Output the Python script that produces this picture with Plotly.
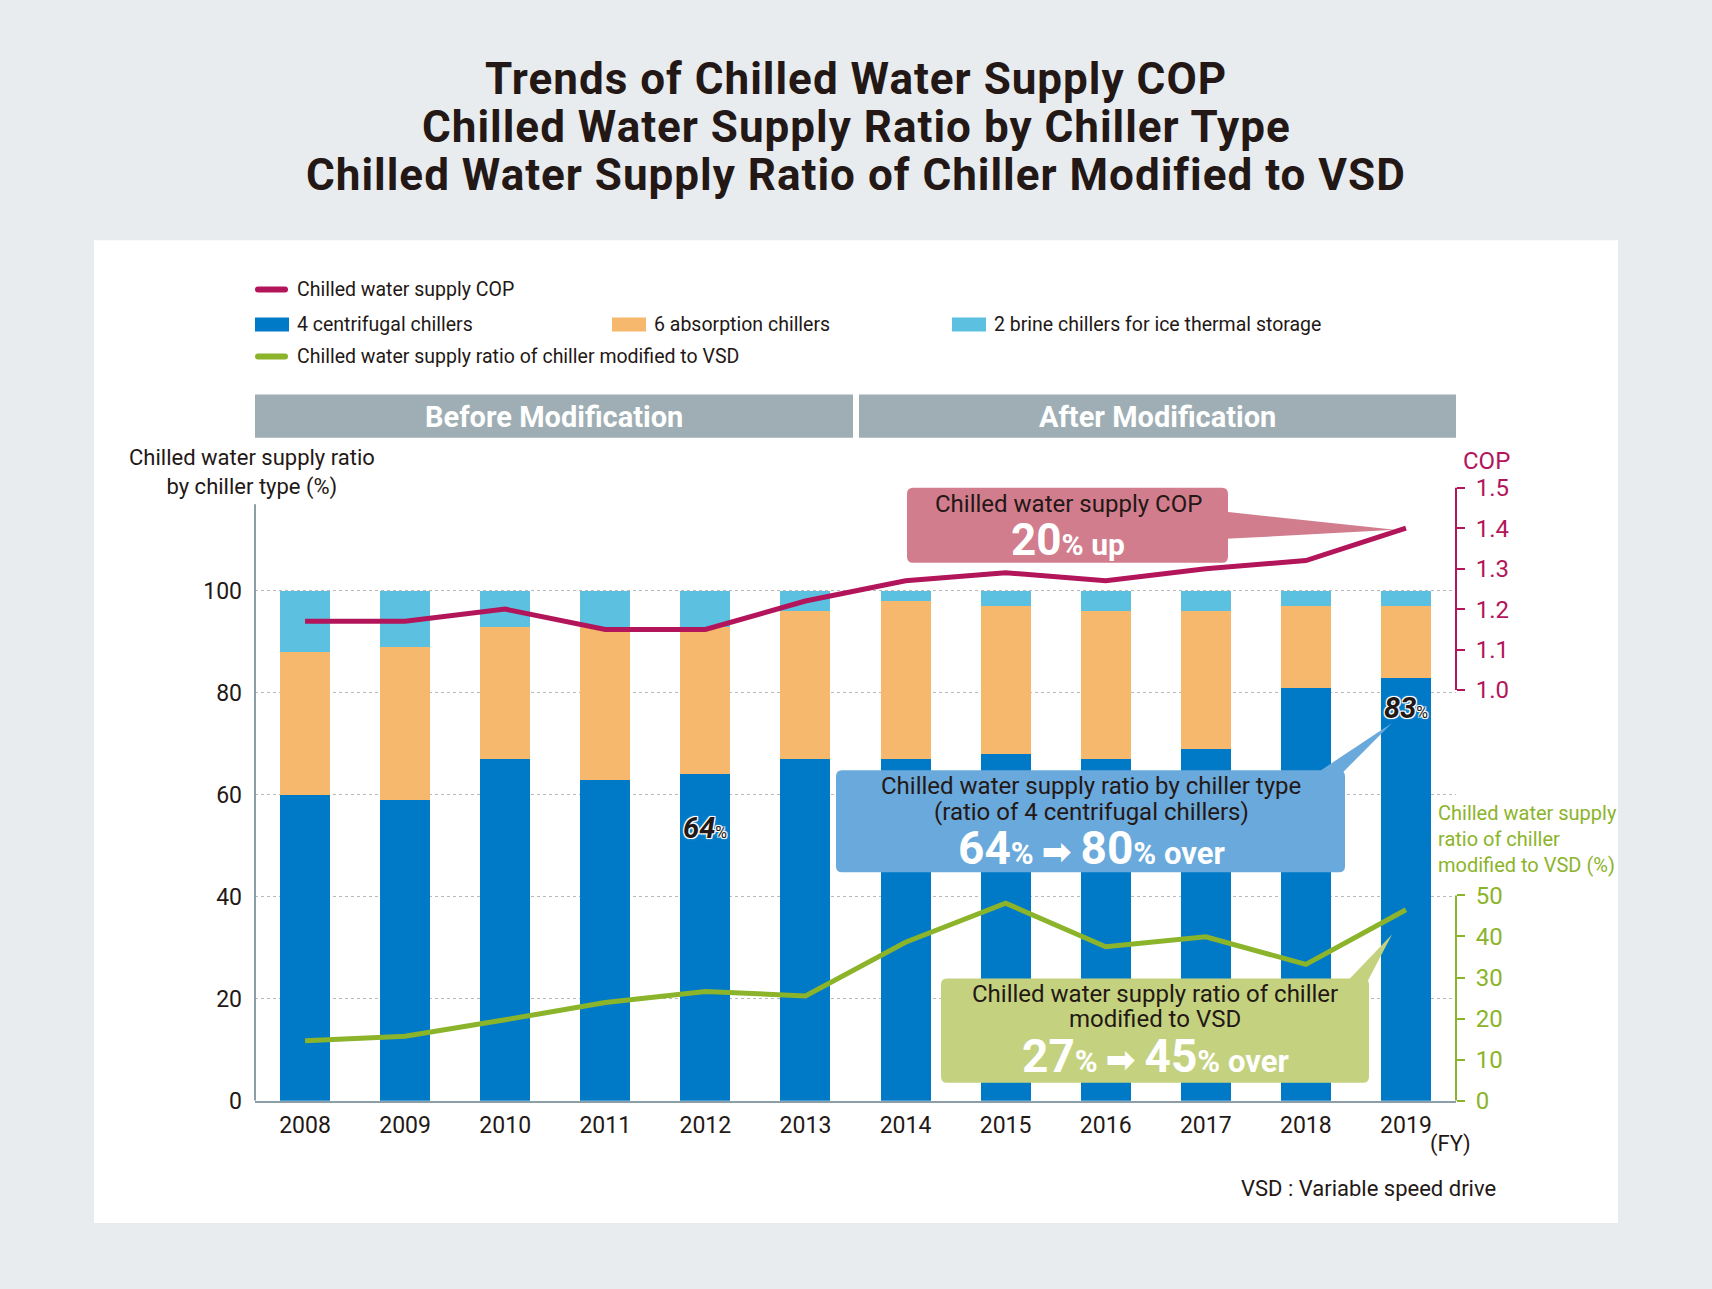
import plotly.graph_objects as go

W, H = 1712, 1289
# the page is photographed 16px taller than asked and squeezed back to H,
# so the figure fills that taller view and layout positions stay in H units
FIG_H = H + 16

years = ["2008", "2009", "2010", "2011", "2012", "2013",
         "2014", "2015", "2016", "2017", "2018", "2019"]
centrifugal = [60, 59, 67, 63, 64, 67, 67, 68, 67, 69, 81, 83]
absorption = [28, 30, 26, 30, 29, 29, 31, 29, 29, 27, 16, 14]
brine = [12, 11, 7, 7, 7, 4, 2, 3, 4, 4, 3, 3]
cop = [1.17, 1.17, 1.20, 1.15, 1.15, 1.22, 1.27, 1.29, 1.27, 1.30, 1.32, 1.40]
vsd_ratio = [14.6, 15.7, 19.7, 23.9, 26.6, 25.5, 38.6, 48.1, 37.5, 39.9, 33.2, 46.5]

left_ticks = [0, 20, 40, 60, 80, 100]
cop_ticks = [1.0, 1.1, 1.2, 1.3, 1.4, 1.5]
vsd_ticks = [0, 10, 20, 30, 40, 50]

FONT = "Roboto, 'DejaVu Sans', sans-serif"
DARK = "#231815"
BLUE = "#0079c7"
ORANGE = "#f6b86d"
CYAN = "#5cc1e1"
CRIMSON = "#b3155b"
GREEN = "#8cb42a"
AXIS = "#8c9ea8"
BANNER = "#9eaeb4"
PAGE = "#e8ecef"


def px(x):
    return x / W


def py(y):
    return 1 - y / H


# plot area in pixels
x_left, x_right = 255, 1456
y_bottom, y_top = 1099, 470

# axis scales (pixel anchors of the reference)
left_unit = (y_bottom - 590) / 100
left_range = [0, (y_bottom - y_top) / left_unit]
cop_unit = (689 - 487) / 0.5
cop_range = [1.0 - (y_bottom - 689) / cop_unit, 1.0 + (689 - y_top) / cop_unit]
vsd_unit = (y_bottom - 894) / 50
vsd_range = [0, (y_bottom - y_top) / vsd_unit]


def rbox(x0, y0, x1, y1, r=6):
    pts = [("M", x0 + r, y0), ("L", x1 - r, y0), ("Q", x1, y0, x1, y0 + r),
           ("L", x1, y1 - r), ("Q", x1, y1, x1 - r, y1), ("L", x0 + r, y1),
           ("Q", x0, y1, x0, y1 - r), ("L", x0, y0 + r), ("Q", x0, y0, x0 + r, y0)]
    out = ""
    for p in pts:
        if p[0] == "Q":
            out += f"Q{px(p[1])},{py(p[2])} {px(p[3])},{py(p[4])} "
        else:
            out += f"{p[0]}{px(p[1])},{py(p[2])} "
    return out + "Z"


def tri(a, b, c):
    return (f"M{px(a[0])},{py(a[1])} L{px(b[0])},{py(b[1])} "
            f"L{px(c[0])},{py(c[1])} Z")


def big(a, b, tail):
    # "a% -> b% tail" with large digits and small units
    sm = "font-size:31px"
    return (f"<b>{a}</b><span style='{sm}'><b>% </b></span>"
            f"<span style='font-size:36px'><b>➡ </b></span>"
            f"<b>{b}</b><span style='{sm}'><b>% {tail}</b></span>")


fig = go.Figure()
fig.add_trace(go.Bar(x=years, y=centrifugal, marker_color=BLUE, width=0.5,
                     marker_line_width=0, name="4 centrifugal chillers"))
fig.add_trace(go.Bar(x=years, y=absorption, marker_color=ORANGE, width=0.5,
                     marker_line_width=0, name="6 absorption chillers"))
fig.add_trace(go.Bar(x=years, y=brine, marker_color=CYAN, width=0.5,
                     marker_line_width=0, name="2 brine chillers for ice thermal storage"))
fig.add_trace(go.Scatter(x=years, y=cop, yaxis="y2", mode="lines",
                         line=dict(color=CRIMSON, width=5), name="Chilled water supply COP"))
fig.add_trace(go.Scatter(x=years, y=vsd_ratio, yaxis="y3", mode="lines",
                         line=dict(color=GREEN, width=5),
                         name="Chilled water supply ratio of chiller modified to VSD"))

shapes = []
annots = []

# white panel
shapes.append(dict(type="rect", xref="paper", yref="paper", x0=px(94), x1=px(1618),
                   y0=py(1221), y1=py(240), fillcolor="white", line_width=0, layer="below"))

# titles
for i, t in enumerate(["Trends of Chilled Water Supply COP",
                       "Chilled Water Supply Ratio by Chiller Type",
                       "Chilled Water Supply Ratio of Chiller Modified to VSD"]):
    annots.append(dict(text=f"<span style='letter-spacing:1px'><b>{t}</b></span>",
                       x=px(856), y=py(79 + 48 * i), font=dict(size=44, color=DARK)))

# legend
leg = [
    ("line", CRIMSON, 255, 289, "Chilled water supply COP"),
    ("box", BLUE, 255, 324, "4 centrifugal chillers"),
    ("box", ORANGE, 612, 324, "6 absorption chillers"),
    ("box", CYAN, 952, 324, "2 brine chillers for ice thermal storage"),
    ("line", GREEN, 255, 356, "Chilled water supply ratio of chiller modified to VSD"),
]
for kind, col, lx, ly, label in leg:
    if kind == "line":
        shapes.append(dict(type="path", xref="paper", yref="paper",
                           path=rbox(lx, ly - 3, lx + 33, ly + 3, r=3),
                           fillcolor=col, line_width=0))
    else:
        shapes.append(dict(type="rect", xref="paper", yref="paper", x0=px(lx), x1=px(lx + 34),
                           y0=py(ly + 7), y1=py(ly - 7), fillcolor=col, line_width=0))
    annots.append(dict(text=label, x=px(lx + 40), y=py(ly), xanchor="left",
                       font=dict(size=19.5, color=DARK)))

# banners
for x0, x1, label in [(255, 853, "Before Modification"), (859, 1456, "After Modification")]:
    shapes.append(dict(type="rect", xref="paper", yref="paper", x0=px(x0), x1=px(x1),
                       y0=py(437), y1=py(394), fillcolor=BANNER, line_width=0))
    annots.append(dict(text=f"<b>{label}</b>", x=px((x0 + x1) / 2), y=py(416),
                       font=dict(size=29, color="white")))

# axis lines drawn only over the labelled spans
shapes.append(dict(type="line", xref="paper", yref="y", x0=px(x_left), x1=px(x_left),
                   y0=0, y1=117, line=dict(color=AXIS, width=2), layer="above"))
shapes.append(dict(type="line", xref="paper", yref="y2", x0=px(x_right), x1=px(x_right),
                   y0=1.0, y1=1.5, line=dict(color=CRIMSON, width=2)))
shapes.append(dict(type="line", xref="paper", yref="y3", x0=px(x_right), x1=px(x_right),
                   y0=0, y1=50, line=dict(color=GREEN, width=2)))

# axis titles
annots.append(dict(text="Chilled water supply ratio<br>by chiller type (%)",
                   x=px(252), y=py(472), font=dict(size=22, color=DARK)))
annots.append(dict(text="COP", x=px(1486), y=py(460), font=dict(size=24, color=CRIMSON)))
annots.append(dict(text="Chilled water supply<br>ratio of chiller<br>modified to VSD (%)",
                   x=px(1436), y=py(838), xanchor="left", align="left",
                   font=dict(size=20, color=GREEN)))
annots.append(dict(text="(FY)", x=px(1450), y=py(1142), font=dict(size=22, color=DARK)))
annots.append(dict(text="VSD : Variable speed drive", x=px(1368), y=py(1187),
                   font=dict(size=22, color=DARK)))

# value labels on bars
outline = "-1px -1px 0 #fff, 1px -1px 0 #fff, -1px 1px 0 #fff, 1px 1px 0 #fff, 0 0 3px #fff"
for idx, yl in [(4, 53.5), (11, 77)]:
    annots.append(dict(text=f"<b><i>{centrifugal[idx]}</i></b><span style='font-size:16px'>%</span>",
                       x=idx, y=yl, xref="x", yref="y",
                       font=dict(size=29, color=DARK, shadow=outline)))

# COP callout
shapes.append(dict(type="path", xref="paper", yref="paper",
                   path=tri((1226, 511), (1226, 538), (1395, 529)),
                   fillcolor="#d27d8e", line_width=0))
shapes.append(dict(type="path", xref="paper", yref="paper",
                   path=rbox(907, 487, 1228, 562), fillcolor="#d27d8e", line_width=0))
annots.append(dict(text="Chilled water supply COP", x=px(1068), y=py(503),
                   font=dict(size=24, color=DARK)))
annots.append(dict(text="<b>20</b><span style='font-size:30px'><b>% up</b></span>",
                   x=px(1068), y=py(539), font=dict(size=44, color="white")))

# centrifugal ratio callout
shapes.append(dict(type="path", xref="paper", yref="paper",
                   path=tri((1318, 771), (1343, 771), (1392, 722)),
                   fillcolor="#6aa9dc", line_width=0))
shapes.append(dict(type="path", xref="paper", yref="paper",
                   path=rbox(836, 769, 1345, 871), fillcolor="#6aa9dc", line_width=0))
for k, line in enumerate(["Chilled water supply ratio by chiller type",
                          "(ratio of 4 centrifugal chillers)"]):
    annots.append(dict(text=line, x=px(1091), y=py(785 + 26 * k),
                       font=dict(size=24, color=DARK)))
annots.append(dict(text=big(64, 80, "over"), x=px(1091), y=py(847),
                   font=dict(size=46, color="white")))

# VSD ratio callout
shapes.append(dict(type="path", xref="paper", yref="paper",
                   path=tri((1348, 979), (1368, 979), (1392, 933)),
                   fillcolor="#c4d27f", line_width=0))
shapes.append(dict(type="path", xref="paper", yref="paper",
                   path=rbox(941, 977, 1369, 1081), fillcolor="#c4d27f", line_width=0))
for k, line in enumerate(["Chilled water supply ratio of chiller", "modified to VSD"]):
    annots.append(dict(text=line, x=px(1155), y=py(992 + 25 * k),
                       font=dict(size=24, color=DARK)))
annots.append(dict(text=big(27, 45, "over"), x=px(1155), y=py(1054),
                   font=dict(size=46, color="white")))

for a in annots:
    a.setdefault("xref", "paper")
    a.setdefault("yref", "paper")
    a.setdefault("xanchor", "center")
    a.setdefault("yanchor", "middle")
    a["showarrow"] = False

fig.update_layout(
    width=W, height=FIG_H, autosize=False,
    margin=dict(l=0, r=0, t=0, b=0),
    paper_bgcolor=PAGE, plot_bgcolor="rgba(0,0,0,0)",
    font=dict(family=FONT, color=DARK),
    barmode="stack", showlegend=False,
    shapes=shapes, annotations=annots,
    xaxis=dict(domain=[px(x_left), px(x_right)], type="category", range=[-0.5, 11.5],
               showline=True, linecolor=AXIS, linewidth=2, ticks="", showgrid=False,
               tickfont=dict(size=23, color=DARK), ticklabelstandoff=3, anchor="y"),
    yaxis=dict(domain=[py(y_bottom), py(y_top)], range=left_range, tickvals=left_ticks,
               showline=False, ticks="", showgrid=True, gridcolor="#b9b9b9", griddash="dot",
               gridwidth=1, zeroline=False, tickfont=dict(size=23, color=DARK),
               ticklabelstandoff=12),
    yaxis2=dict(overlaying="y", side="right", anchor="x", range=cop_range,
                tickvals=cop_ticks, ticktext=[f"{v:.1f}" for v in cop_ticks],
                ticks="outside", ticklen=8, tickwidth=2, tickcolor=CRIMSON,
                showgrid=False, zeroline=False, showline=False,
                tickfont=dict(size=24, color=CRIMSON), ticklabelstandoff=6),
    yaxis3=dict(overlaying="y", side="right", anchor="x", range=vsd_range,
                tickvals=vsd_ticks, ticks="outside", ticklen=8, tickwidth=2, tickcolor=GREEN,
                showgrid=False, zeroline=False, showline=False,
                tickfont=dict(size=24, color=GREEN), ticklabelstandoff=6),
)

page_fix = """
document.documentElement.style.overflow = 'hidden';
document.documentElement.style.background = '%s';
document.body.style.background = '%s';
document.body.style.margin = '0';
""" % (PAGE, PAGE)

fig.write_html("out.html", config={"displayModeBar": False}, post_script=page_fix)
